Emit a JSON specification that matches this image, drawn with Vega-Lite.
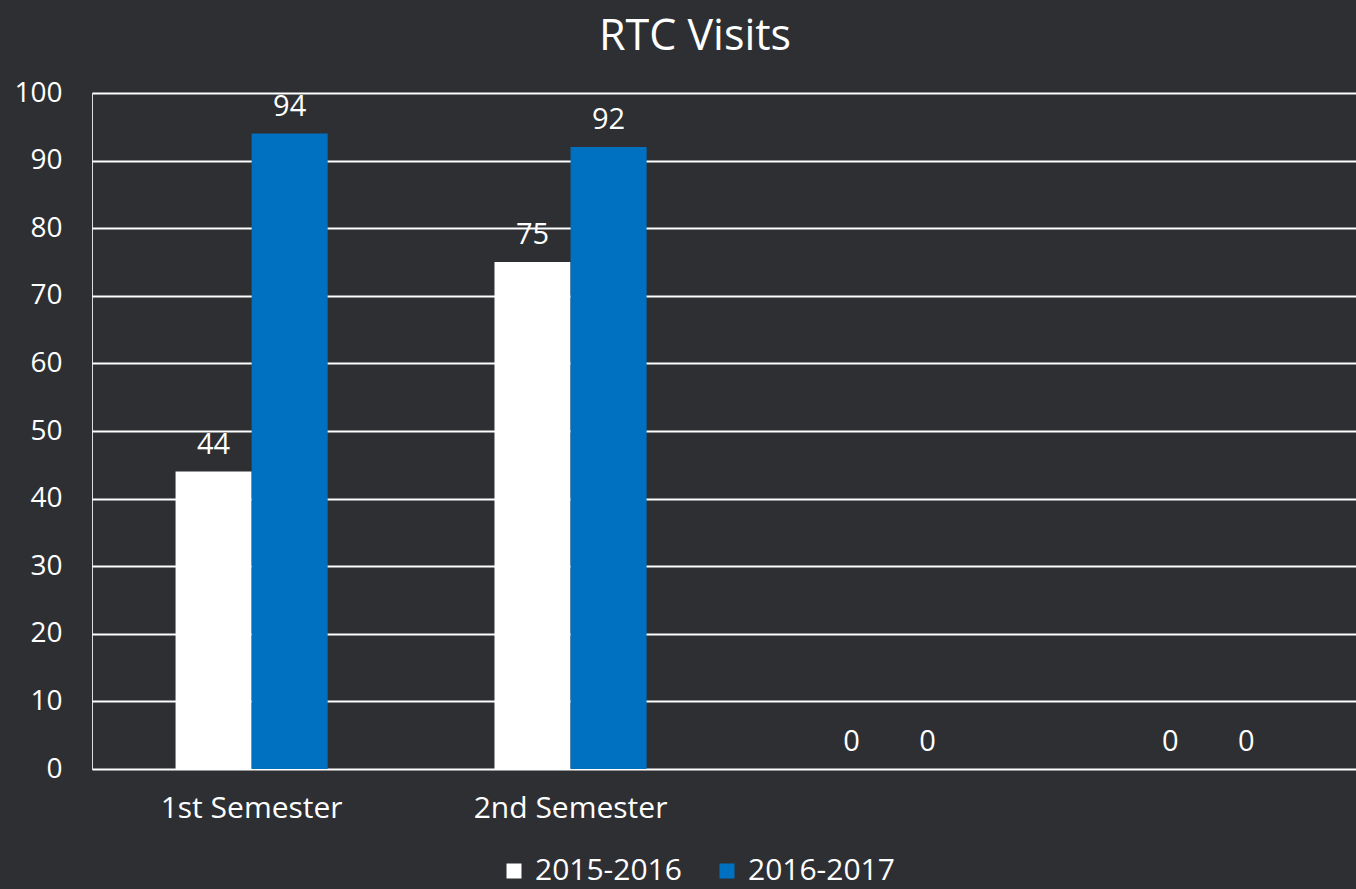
{
  "$schema": "https://vega.github.io/schema/vega-lite/v6.json",
  "width": 1276,
  "height": 676,
  "autosize": {"type": "none"},
  "padding": {"left": 92, "top": 93, "right": 0, "bottom": 120},
  "background": "#2d2f33",
  "title": {"text": "RTC Visits", "color": "#ffffff", "fontSize": 43, "font": "Open Sans", "fontWeight": "normal", "anchor": "middle", "offset": 20, "dx": -35},
  "data": {
    "values": [
      {"category": "1st Semester", "year": "2015-2016", "visits": 44},
      {"category": "1st Semester", "year": "2016-2017", "visits": 94},
      {"category": "2nd Semester", "year": "2015-2016", "visits": 75},
      {"category": "2nd Semester", "year": "2016-2017", "visits": 92},
      {"category": "Q3", "year": "2015-2016", "visits": 0},
      {"category": "Q3", "year": "2016-2017", "visits": 0},
      {"category": "Q4", "year": "2015-2016", "visits": 0},
      {"category": "Q4", "year": "2016-2017", "visits": 0}
    ]
  },
  "encoding": {
    "x": {
      "field": "category", "type": "nominal", "sort": null,
      "scale": {"paddingInner": 0.523, "paddingOuter": 0.262},
      "axis": {"title": null, "labelAngle": 0, "labelColor": "#ffffff", "labelFontSize": 30, "labelFont": "Open Sans", "labelPadding": 24, "labelLimit": 0, "ticks": false, "domain": false,
        "labelExpr": "indexof(datum.label, 'Semester') >= 0 ? datum.label : ''"}
    },
    "xOffset": {"field": "year", "type": "nominal", "scale": {"paddingInner": 0, "paddingOuter": 0}},
    "y": {
      "field": "visits", "type": "quantitative",
      "scale": {"domain": [0, 100], "nice": false},
      "axis": {"title": null, "values": [0,10,20,30,40,50,60,70,80,90,100], "labelColor": "#ffffff", "labelFontSize": 28, "labelFont": "Open Sans", "labelPadding": 30, "ticks": false, "domain": false, "grid": true, "gridColor": "#ffffff", "gridWidth": 2, "gridOpacity": 1}
    }
  },
  "layer": [
    {
      "mark": {"type": "bar"},
      "encoding": {
        "color": {
          "field": "year", "type": "nominal",
          "scale": {"domain": ["2015-2016", "2016-2017"], "range": ["#ffffff", "#0070c0"]},
          "legend": {"title": null, "orient": "none", "legendX": 407, "legendY": 763, "direction": "horizontal", "symbolType": "square", "symbolSize": 225, "symbolStrokeWidth": 0, "labelColor": "#ffffff", "labelFontSize": 30, "labelFont": "Open Sans", "columnPadding": 30, "labelOffset": 6, "labelLimit": 0}
        }
      }
    },
    {
      "mark": {"type": "text", "baseline": "bottom", "dy": -12, "color": "#ffffff", "fontSize": 29, "font": "Open Sans"},
      "encoding": {"text": {"field": "visits", "type": "quantitative"}}
    }
  ]
}
